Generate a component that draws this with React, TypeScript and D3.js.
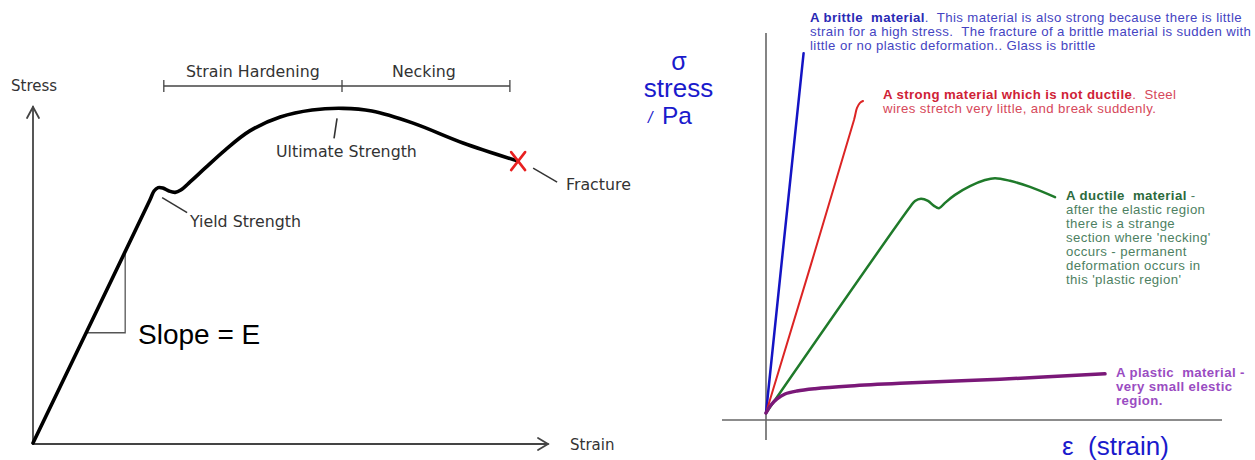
import React from 'react';
import * as d3 from 'd3';

const W = 1255;
const H = 460;

// ---- left chart: generic stress-strain curve (arbitrary units, 0-100) ----
const curveStrain = [0, 22.7, 23.5, 24.3, 25.2, 26.4, 27.6, 28.7, 30.5, 33.4, 37.3, 42.1, 48.0, 54.2, 60.2, 65.8, 73.8, 83.5, 94.2];
const curveStress = [0, 72.3, 75.0, 76.0, 75.9, 75.0, 74.6, 75.3, 77.7, 81.8, 87.2, 92.9, 97.0, 99.1, 99.6, 98.8, 95.2, 89.3, 83.9];
const regionBounds = [25.4, 60.0, 92.6];
const regionLabels = ['Strain Hardening', 'Necking'];
const slopeStrains = [10.3, 17.9];
const YIELD_IDX = 3;
const ULTIMATE_IDX = 14;

// ---- right chart: four materials (arbitrary units, 0-100) ----
const brittleStrain = [0, 4.5, 9.4];
const brittleStress = [0, 45.5, 94.7];
const strongStrain = [0, 22.0, 22.75, 23.5, 24.25];
const strongStress = [0, 77.1, 80.3, 81.6, 82.1];
const ductileStrain = [0, 36, 37.25, 38.75, 40.5, 42, 43.25, 44.75, 47.25, 51, 54.75, 57.25, 61, 66, 72.25];
const ductileStress = [0, 54.2, 55.8, 56.4, 55.8, 54.5, 53.9, 55.3, 57.4, 59.7, 61.3, 61.8, 61.1, 59.5, 56.8];
const plasticStrain = [0, 1.25, 2.75, 4.75, 7.75, 12.25, 21, 33.5, 58.5, 84.75];
const plasticStress = [0, 2.1, 3.7, 5.0, 5.8, 6.4, 7.1, 7.8, 8.9, 10.3];

const brittleNote = [
  'A brittle  material',
  '.  This material is also strong because there is little',
  'strain for a high stress.  The fracture of a brittle material is sudden with',
  'little or no plastic deformation.. Glass is brittle',
];
const strongNote = [
  'A strong material which is not ductile',
  '.  Steel',
  'wires stretch very little, and break suddenly.',
];
const ductileNote = [
  'A ductile  material',
  ' -',
  'after the elastic region',
  'there is a strange',
  "section where 'necking'",
  'occurs - permanent',
  'deformation occurs in',
  "this 'plastic region'",
];
const plasticNote = ['A plastic  material -', 'very small elestic', 'region.'];

const zip = (xs: number[], ys: number[]) => xs.map((x, i) => [x, ys[i]] as [number, number]);

const Note = ({ lines, x, y, lh, boldColor, color, allBold }: any) => (
  <text x={x} y={y} fontFamily="'Liberation Sans', Arial, sans-serif" fontSize={13.2} letterSpacing={0.4}
    style={{ whiteSpace: 'pre' }}>
    <tspan fontWeight="bold" fill={boldColor}>{lines[0]}</tspan>
    {allBold ? null : <tspan fill={color}>{lines[1]}</tspan>}
    {(allBold ? lines.slice(1) : lines.slice(2)).map((l: string, i: number) => (
      <tspan key={i} x={x} y={y + lh * (i + 1)} fill={allBold ? boldColor : color} fontWeight={allBold ? 'bold' : 'normal'}>
        {l}
      </tspan>
    ))}
  </text>
);

export default function App() {
  // left scales
  const lx = d3.scaleLinear().domain([0, 100]).range([33, 548]);
  const ly = d3.scaleLinear().domain([0, 100]).range([443, 107]);
  const leftLine = d3.line<[number, number]>()
    .x(d => lx(d[0]))
    .y(d => ly(d[1]))
    .curve(d3.curveCatmullRom.alpha(0.5));
  const curve = zip(curveStrain, curveStress);
  const E = curveStress[1] / curveStrain[1];
  const yieldPt = [lx(curveStrain[YIELD_IDX]), ly(curveStress[YIELD_IDX])];
  const ultPt = [lx(curveStrain[ULTIMATE_IDX]), ly(curveStress[ULTIMATE_IDX])];
  const last = curve.length - 1;
  const fracPt = [lx(curveStrain[last]), ly(curveStress[last])];
  const triX0 = lx(slopeStrains[0]);
  const triX1 = lx(slopeStrains[1]);
  const triYb = ly(slopeStrains[0] * E);
  const triYt = ly(slopeStrains[1] * E);
  const bracketY = 86;

  // right scales
  const rx = d3.scaleLinear().domain([0, 100]).range([766, 1166]);
  const ry = d3.scaleLinear().domain([0, 100]).range([413, 33]);
  const rightLine = d3.line<[number, number]>()
    .x(d => rx(d[0]))
    .y(d => ry(d[1]))
    .curve(d3.curveCatmullRom.alpha(0.5));

  const series = [
    { data: zip(brittleStrain, brittleStress), color: '#1414c4', w: 2.5 },
    { data: zip(strongStrain, strongStress), color: '#dc2424', w: 2 },
    { data: zip(ductileStrain, ductileStress), color: '#1f7a2a', w: 2.5 },
    { data: zip(plasticStrain, plasticStress), color: '#7a1878', w: 3.5 },
  ];

  const lf = "'DejaVu Sans', sans-serif";
  const tc = '#333';

  return (
    <div style={{ position: 'absolute', left: 0, top: 0 }}>
      <svg width={W} height={H} viewBox={`0 0 ${W} ${H}`} style={{ display: 'block', background: '#fff' }}>
        {/* ---------- left chart ---------- */}
        <g stroke="#444" strokeWidth={1.8} fill="none" strokeLinecap="round">
          <line x1={lx(0)} y1={ly(0) + 1} x2={lx(0)} y2={ly(100)} />
          <line x1={lx(0)} y1={ly(0) + 1} x2={lx(100)} y2={ly(0) + 1} />
          <polyline points={`${lx(0) - 6},${ly(100) + 11} ${lx(0)},${ly(100)} ${lx(0) + 6},${ly(100) + 11}`} />
          <polyline points={`${lx(100) - 10},${ly(0) - 5} ${lx(100)},${ly(0) + 1} ${lx(100) - 10},${ly(0) + 7}`} />
        </g>
        <text x={11} y={91} fontFamily={lf} fontSize={15} fill={tc}>Stress</text>
        <text x={570} y={450} fontFamily={lf} fontSize={15} fill={tc}>Strain</text>

        {/* region bracket */}
        <g stroke="#444" strokeWidth={1.3}>
          <line x1={lx(regionBounds[0])} x2={lx(regionBounds[2])} y1={bracketY} y2={bracketY} />
          {regionBounds.map((b, i) => (
            <line key={i} x1={lx(b)} x2={lx(b)} y1={bracketY - 6} y2={bracketY + 6} />
          ))}
        </g>
        {regionLabels.map((l, i) => (
          <text key={l} x={(lx(regionBounds[i]) + lx(regionBounds[i + 1])) / 2 + (i === 0 ? 0 : -2)} y={77}
            textAnchor="middle" fontFamily={lf} fontSize={15.8} fill={tc}>{l}</text>
        ))}

        {/* slope triangle */}
        <polyline points={`${triX0},${triYb} ${triX1},${triYb} ${triX1},${triYt}`} fill="none" stroke="#555" strokeWidth={1.3} />
        <text x={138} y={344} fontFamily="'Liberation Sans', Arial, sans-serif" fontSize={28} fill="#000">Slope = E</text>

        {/* curve */}
        <path d={leftLine(curve) || ''} fill="none" stroke="#000" strokeWidth={3.6} strokeLinejoin="round" strokeLinecap="round" />

        {/* yield */}
        <line x1={yieldPt[0] + 4} y1={yieldPt[1] + 10} x2={yieldPt[0] + 29} y2={yieldPt[1] + 25} stroke="#333" strokeWidth={1.5} />
        <text x={190} y={227} fontFamily={lf} fontSize={15.8} fill={tc}>Yield Strength</text>

        {/* ultimate */}
        <line x1={ultPt[0] - 6} y1={ultPt[1] + 10} x2={ultPt[0] - 9} y2={ultPt[1] + 30} stroke="#333" strokeWidth={1.6} />
        <text x={276} y={157} fontFamily={lf} fontSize={15.8} fill={tc}>Ultimate Strength</text>

        {/* fracture */}
        <g stroke="#e82020" strokeWidth={2.6} strokeLinecap="round">
          <line x1={fracPt[0] - 7} y1={fracPt[1] - 9} x2={fracPt[0] + 7} y2={fracPt[1] + 9} />
          <line x1={fracPt[0] + 7} y1={fracPt[1] - 9} x2={fracPt[0] - 7} y2={fracPt[1] + 9} />
        </g>
        <line x1={fracPt[0] + 15} y1={fracPt[1] + 7} x2={fracPt[0] + 39} y2={fracPt[1] + 21} stroke="#333" strokeWidth={1.5} />
        <text x={566} y={190} fontFamily={lf} fontSize={15.8} fill={tc}>Fracture</text>

        {/* ---------- right chart ---------- */}
        <g stroke="#666" strokeWidth={1.6}>
          <line x1={rx(0)} x2={rx(0)} y1={ry(100)} y2={ry(0) + 27} />
          <line x1={rx(0) - 44} x2={rx(114)} y1={ry(0) + 7} y2={ry(0) + 7} />
        </g>
        <g fontFamily="'Liberation Sans', Arial, sans-serif" fill="#1a1acc">
          <text x={679} y={70} textAnchor="middle" fontSize={25}>σ</text>
          <text x={678.5} y={97} textAnchor="middle" fontSize={26}>stress</text>
          <text x={648} y={123} fontSize={16} fontStyle="italic">/</text>
          <text x={662} y={124} fontSize={24.5}>Pa</text>
          <text x={1062} y={455} fontSize={26} style={{ whiteSpace: 'pre' }}>ε  (strain)</text>
        </g>

        {series.map((s, i) => (
          <path key={i} d={rightLine(s.data) || ''} fill="none" stroke={s.color} strokeWidth={s.w}
            strokeLinejoin="round" strokeLinecap="round" />
        ))}

        <Note lines={brittleNote} x={810} y={21.5} lh={14} boldColor="#2a2ab4" color="#4444c2" />
        <Note lines={strongNote} x={883} y={98.5} lh={14} boldColor="#cf2236" color="#d6485a" />
        <Note lines={ductileNote} x={1066} y={200} lh={14} boldColor="#2c6a3c" color="#4d7f62" />
        <Note lines={plasticNote} x={1116} y={377} lh={14} boldColor="#9a4cc2" allBold />
      </svg>
    </div>
  );
}
